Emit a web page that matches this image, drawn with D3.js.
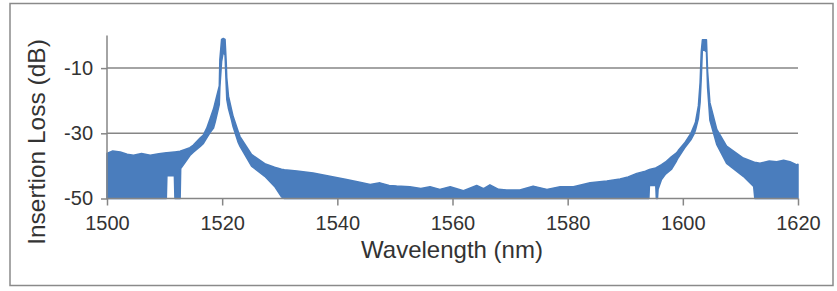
<!DOCTYPE html>
<html>
<head>
<meta charset="utf-8">
<script src="https://cdn.jsdelivr.net/npm/d3@7"></script>
<style>
  body { margin: 0; background: #fff; }
  text { font-family: "Liberation Sans", Arial, sans-serif; fill: #333; }
</style>
</head>
<body>
<div id="chart"></div>
<script>
const wavelength = [
  1500.0, 1501.0, 1502.3, 1503.5, 1504.6, 1506.0, 1507.5, 1509.0, 1510.3, 1510.4,
  1511.7, 1511.8, 1512.7, 1512.8, 1513.3, 1514.4, 1515.0, 1516.2, 1516.7, 1517.3,
  1517.9, 1518.5, 1518.8, 1519.5, 1519.6, 1519.9, 1520.2, 1520.5, 1520.7, 1520.8,
  1521.1, 1521.6, 1521.9, 1522.8, 1523.1, 1525.1, 1527.4, 1529.1, 1530.3, 1530.8,
  1533.0, 1535.8, 1538.7, 1541.6, 1543.9, 1545.7, 1547.4, 1549.0, 1550.3, 1552.6,
  1554.5, 1556.1, 1557.8, 1559.6, 1561.9, 1564.2, 1565.4, 1566.5, 1568.0, 1569.4,
  1571.7, 1574.0, 1576.4, 1578.7, 1581.0, 1583.9, 1586.8, 1589.1, 1590.5, 1592.0,
  1593.5, 1594.1, 1594.2, 1595.3, 1595.4, 1595.6, 1595.7, 1596.3, 1597.0, 1598.0,
  1598.9, 1599.2, 1600.3, 1601.4, 1602.0, 1602.2, 1602.7, 1603.0, 1603.2, 1603.4,
  1604.1, 1604.3, 1604.7, 1605.9, 1607.6, 1610.5, 1612.3, 1612.5, 1613.4, 1615.0,
  1616.3, 1617.5, 1618.6, 1619.8, 1620.0
];
const upperDb = [
  -36.2, -35.4, -35.7, -36.4, -36.7, -36.2, -36.7, -36.3, -36.0, -36.0,
  -35.7, -35.7, -35.5, -35.4, -35.1, -34.4, -33.6, -31.4, -30.6, -28.5,
  -25.5, -22.5, -20.4, -15.5, -7.4, -1.2, -0.9, -1.2, -8.0, -13.0,
  -18.6, -22.5, -24.8, -29.5, -31.0, -36.5, -39.3, -40.4, -41.0, -41.2,
  -41.6, -42.2, -43.2, -44.2, -45.0, -45.7, -45.2, -46.0, -46.2, -46.4,
  -46.9, -46.4, -47.2, -46.4, -47.6, -46.0, -47.0, -45.8, -47.2, -47.4,
  -47.4, -46.2, -47.2, -46.4, -46.4, -45.2, -44.6, -44.0, -43.4, -42.3,
  -41.6, -41.2, -41.1, -40.6, -40.5, -40.3, -40.2, -39.6, -38.8, -37.2,
  -36.0, -35.3, -33.0, -30.0, -27.5, -26.5, -21.6, -14.4, -5.0, -1.3,
  -1.3, -11.0, -20.6, -28.8, -33.9, -37.6, -38.8, -38.9, -39.2, -38.5,
  -38.7, -38.3, -38.7, -39.7, -39.5
];
const lowerDb = [
  -50, -50, -50, -50, -50, -50, -50, -50, -50, -43.0,
  -43.0, -50, -50, -40.8, -39.6, -36.8, -35.8, -34.0, -33.2, -31.5,
  -29.8, -28.4, -26.5, -21.2, -16.0, -8.0, -5.0, -6.0, -15.0, -19.6,
  -22.5, -25.8, -28.0, -32.9, -34.0, -40.1, -43.2, -46.3, -49.5, -50,
  -50, -50, -50, -50, -50, -50, -50, -50, -50, -50,
  -50, -50, -50, -50, -50, -50, -50, -50, -50, -50,
  -50, -50, -50, -50, -50, -50, -50, -50, -50, -50,
  -50, -50, -46.0, -46.0, -50, -50, -47.2, -44.2, -42.5, -41.1,
  -38.5, -37.5, -34.5, -32.0, -30.0, -29.0, -25.5, -20.5, -13.0, -4.0,
  -5.0, -16.0, -26.0, -33.5, -39.2, -43.2, -46.3, -50, -50, -50,
  -50, -50, -50, -50, -50
];
const xTicks = [1500, 1520, 1540, 1560, 1580, 1600, 1620];
const yTicks = [-50, -30, -10];

const data = wavelength.map((w, i) => ({ w: w, hi: upperDb[i], lo: lowerDb[i] }));

var width = 837, height = 291;
var svg = d3.select("#chart").append("svg")
  .attr("width", width)
  .attr("height", height);

// chart frame
svg.append("rect")
  .attr("x", 10).attr("y", 3.5)
  .attr("width", 823).attr("height", 282)
  .attr("fill", "none")
  .attr("stroke", "#8a8a8a")
  .attr("stroke-width", 1.5);

var x = d3.scaleLinear().domain([1500, 1620]).range([107, 798]);
var y = d3.scaleLinear().domain([-50, 0]).range([198.5, 35.5]);

// gridlines
svg.append("g").selectAll("line")
  .data(yTicks.filter(d => d > -50))
  .enter().append("line")
  .attr("x1", x(1500)).attr("x2", x(1620))
  .attr("y1", d => y(d)).attr("y2", d => y(d))
  .attr("stroke", "#868686")
  .attr("stroke-width", 1.5);

// trace
var area = d3.area()
  .x(d => x(d.w))
  .y0(d => y(d.lo))
  .y1(d => y(d.hi));
svg.append("path")
  .datum(data)
  .attr("d", area)
  .attr("fill", "#4a7dbd")
  .attr("stroke", "#4a7dbd")
  .attr("stroke-width", 1.5)
  .attr("stroke-linejoin", "round");

// axes
var xAxis = svg.append("g")
  .attr("transform", "translate(0," + y(-50) + ")")
  .call(d3.axisBottom(x).tickValues(xTicks).tickSize(7).tickPadding(10).tickFormat(d => String(d)));
var yAxis = svg.append("g")
  .attr("transform", "translate(" + x(1500) + ",0)")
  .call(d3.axisLeft(y).tickValues(yTicks).tickSize(6).tickPadding(8).tickFormat(d => String(d)));
[xAxis, yAxis].forEach(function (g) {
  g.select(".domain").attr("stroke", "#868686").attr("stroke-width", 1.5);
  g.selectAll(".tick line").attr("stroke", "#868686").attr("stroke-width", 1.5);
  g.selectAll(".tick text").attr("fill", "#333").style("font-size", "20px")
    .attr("font-family", null);
});
yAxis.select(".domain").attr("d", "M0," + y(0) + "V" + y(-50));
xAxis.select(".domain").attr("d", "M" + x(1500) + ",0H" + x(1620));

// titles
svg.append("text")
  .attr("x", 452).attr("y", 258)
  .attr("text-anchor", "middle")
  .style("font-size", "24px")
  .text("Wavelength (nm)");
svg.append("text")
  .attr("transform", "translate(45,142) rotate(-90)")
  .attr("text-anchor", "middle")
  .style("font-size", "24.5px")
  .text("Insertion Loss (dB)");
</script>
</body>
</html>
